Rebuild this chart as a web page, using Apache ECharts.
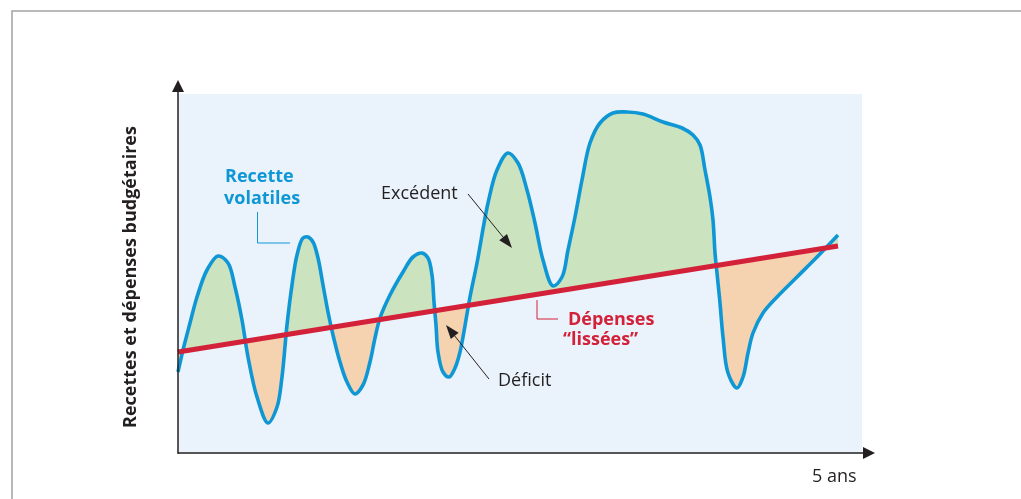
<!DOCTYPE html>
<html><head><meta charset="utf-8">
<script src="https://cdn.jsdelivr.net/npm/echarts@6/dist/echarts.min.js"></script>
<style>html,body{margin:0;padding:0;background:#fff}#c{width:1021px;height:499px}</style>
</head><body><div id="c"></div>
<script>
// ---- data (arbitrary units: time along x, amount along y) ----
const recetteX = [0,5,12,19,29,40,50,57,64,70,79,90,99,104,109,114,119,125,130,135,140,145,150,155,162,169,177,185,192,197,202,212,225,235,244,250,254,256,258,260,265,271,277,282,292,299,310,319,330,340,349,357,365,375,384,390,397,404,412,422,435,449,465,485,504,515,522,527,532,535,537,539,542,545,550,559,565,570,575,585,599,619,639,660];
const recetteY = [81,103,130,156,183,197,190,166,133,96,56,30,46,76,128,168,198,215,216,211,195,168,141,118,91,71,59,68,91,115,135,158,181,196,200,195,178,151,128,101,81,76,85,101,156,190,250,283,300,290,263,230,193,167,176,203,236,273,310,330,340,341,339,331,325,318,308,283,256,233,200,180,150,116,80,65,76,100,120,140,156,176,196,218];
const depensesX = [0, 660];
const depensesY = [101, 207];
const axisMax = {x: 691, y: 367};
const plotArea = {x: 684, y: 359};

// ---- styles ----
const BLUE = '#0f97d5', RED = '#d3213a', GREEN = '#cbe3bf', ORANGE = '#f5d3b1', BG = '#eaf3fb', INK = '#231f20';
const FONT = '"Open Sans", "Noto Sans", sans-serif';

// centripetal Catmull-Rom -> cubic Bezier path
function smoothPath(p){
  const n = p.length, f = v => v.toFixed(2), eps = 1e-6;
  const dist = (a, b) => Math.hypot(a[0] - b[0], a[1] - b[1]);
  let d = 'M' + f(p[0][0]) + ' ' + f(p[0][1]);
  for (let i = 0; i < n - 1; i++) {
    const P0 = p[Math.max(i - 1, 0)], P1 = p[i], P2 = p[i + 1], P3 = p[Math.min(i + 2, n - 1)];
    const d01 = dist(P0, P1), d12 = dist(P1, P2), d23 = dist(P2, P3);
    const a01 = Math.sqrt(d01), a12 = Math.sqrt(d12), a23 = Math.sqrt(d23);
    let c1 = [P1[0], P1[1]], c2 = [P2[0], P2[1]];
    if (a01 > eps) {
      const A = 2 * d01 + 3 * a01 * a12 + d12, N = 3 * a01 * (a01 + a12);
      c1 = [(P1[0] * A - P0[0] * d12 + P2[0] * d01) / N, (P1[1] * A - P0[1] * d12 + P2[1] * d01) / N];
    }
    if (a23 > eps) {
      const B = 2 * d23 + 3 * a23 * a12 + d12, M = 3 * a23 * (a23 + a12);
      c2 = [(P2[0] * B + P1[0] * d23 - P3[0] * d12) / M, (P2[1] * B + P1[1] * d23 - P3[1] * d12) / M];
    }
    d += ' C' + f(c1[0]) + ' ' + f(c1[1]) + ' ' + f(c2[0]) + ' ' + f(c2[1]) + ' ' + f(P2[0]) + ' ' + f(P2[1]);
  }
  return d;
}

const chart = echarts.init(document.getElementById('c'), null, {renderer: 'canvas'});

function renderBg(params, api){
  const a = api.coord([0, plotArea.y]), b = api.coord([plotArea.x, 0]);
  return {type: 'rect', shape: {x: a[0], y: a[1], width: b[0] - a[0], height: b[1] - a[1]}, style: {fill: BG}};
}

function renderRecettes(params, api){
  const pts = recetteX.map((x, i) => api.coord([x, recetteY[i]]));
  const curve = smoothPath(pts);
  const r0 = api.coord([depensesX[0], depensesY[0]]);
  const r1 = api.coord([depensesX[1], depensesY[1]]);
  const fillPath = curve + ' L' + r1[0] + ' ' + r1[1] + ' L' + r0[0] + ' ' + r0[1] + ' Z';
  const ex = (r1[0] - r0[0]) * 0.2, ey = (r1[1] - r0[1]) * 0.2;
  const p0 = [r0[0] - ex, r0[1] - ey], p1 = [r1[0] + ex, r1[1] + ey];
  const above = [p0, p1, [p1[0], -2000], [p0[0], -2000]];
  const below = [p0, p1, [p1[0], 3000], [p0[0], 3000]];
  return {
    type: 'group',
    children: [
      {type: 'path', shape: {pathData: fillPath}, style: {fill: GREEN, stroke: null}, clipPath: {type: 'polygon', shape: {points: above}}},
      {type: 'path', shape: {pathData: fillPath}, style: {fill: ORANGE, stroke: null}, clipPath: {type: 'polygon', shape: {points: below}}},
      {type: 'path', shape: {pathData: curve}, style: {fill: null, stroke: BLUE, lineWidth: 3.6, lineJoin: 'round', lineCap: 'butt'}}
    ]
  };
}

function arrowHead(tip, from, len, half){
  const dx = tip[0] - from[0], dy = tip[1] - from[1], L = Math.hypot(dx, dy);
  const ux = dx / L, uy = dy / L, px = -uy, py = ux;
  const b = [tip[0] - ux * len, tip[1] - uy * len];
  return {base: b, pts: [tip, [b[0] + px * half, b[1] + py * half], [b[0] - px * half, b[1] - py * half]]};
}
const exc = arrowHead([512, 248], [468, 194], 14, 5);
const def = arrowHead([446, 325], [489, 379], 14, 5);

const Z = 100;
const option = {
  animation: false,
  grid: {left: 178, top: 86, width: axisMax.x, height: axisMax.y, containLabel: false},
  xAxis: {type: 'value', min: 0, max: axisMax.x, z: 10,
    axisLine: {show: true, lineStyle: {color: INK, width: 1.5}, symbol: ['none', 'triangle'], symbolSize: [12, 12]},
    axisTick: {show: false}, axisLabel: {show: false}, splitLine: {show: false}},
  yAxis: {type: 'value', min: 0, max: axisMax.y, z: 10,
    axisLine: {show: true, lineStyle: {color: INK, width: 1.5}, symbol: ['none', 'triangle'], symbolSize: [12, 12]},
    axisTick: {show: false}, axisLabel: {show: false}, splitLine: {show: false}},
  series: [
    {type: 'custom', name: 'fond', coordinateSystem: 'cartesian2d', data: [[0, 0]], z: 1, silent: true, renderItem: renderBg},
    {type: 'custom', name: 'Recettes volatiles', coordinateSystem: 'cartesian2d', data: [[0, 0]], z: 3, silent: true, renderItem: renderRecettes},
    {type: 'line', name: 'Dépenses lissées', data: depensesX.map((x, i) => [x, depensesY[i]]), showSymbol: false, silent: true, z: 5,
      lineStyle: {color: RED, width: 5, cap: 'butt'}}
  ],
  graphic: [
    {type: 'polyline', z: Z, shape: {points: [[12, 499], [12, 11], [1021, 11]]}, style: {stroke: '#a3a3a3', lineWidth: 1.5, fill: null}},
    {type: 'text', z: Z, x: 131, y: 277, rotation: Math.PI / 2, style: {text: 'Recettes et dépenses budgétaires', font: 'bold 18px ' + FONT, fill: INK, textAlign: 'center', textVerticalAlign: 'middle'}},
    {type: 'text', z: Z, x: 812, y: 477, style: {text: '5 ans', font: '18px ' + FONT, fill: INK, textAlign: 'left', textVerticalAlign: 'middle'}},
    {type: 'text', z: Z, x: 225, y: 177, style: {text: 'Recette', font: 'bold 18px ' + FONT, fill: BLUE, textAlign: 'left', textVerticalAlign: 'middle'}},
    {type: 'text', z: Z, x: 224, y: 199, style: {text: 'volatiles', font: 'bold 18px ' + FONT, fill: BLUE, textAlign: 'left', textVerticalAlign: 'middle'}},
    {type: 'polyline', z: Z, shape: {points: [[257.5, 212], [257.5, 243], [290, 243]]}, style: {stroke: BLUE, lineWidth: 1, fill: null}},
    {type: 'text', z: Z, x: 381, y: 194, style: {text: 'Excédent', font: '18px ' + FONT, fill: INK, textAlign: 'left', textVerticalAlign: 'middle'}},
    {type: 'line', z: Z, shape: {x1: 468, y1: 194, x2: exc.base[0], y2: exc.base[1]}, style: {stroke: INK, lineWidth: 1}},
    {type: 'polygon', z: Z, shape: {points: exc.pts}, style: {fill: INK}},
    {type: 'text', z: Z, x: 498, y: 381, style: {text: 'Déficit', font: '18px ' + FONT, fill: INK, textAlign: 'left', textVerticalAlign: 'middle'}},
    {type: 'line', z: Z, shape: {x1: 489, y1: 379, x2: def.base[0], y2: def.base[1]}, style: {stroke: INK, lineWidth: 1}},
    {type: 'polygon', z: Z, shape: {points: def.pts}, style: {fill: INK}},
    {type: 'polyline', z: Z, shape: {points: [[537, 300], [537, 319], [558, 319]]}, style: {stroke: RED, lineWidth: 1, fill: null}},
    {type: 'text', z: Z, x: 568, y: 320, style: {text: 'Dépenses', font: 'bold 18px ' + FONT, fill: RED, textAlign: 'left', textVerticalAlign: 'middle'}},
    {type: 'text', z: Z, x: 563, y: 340, style: {text: '\u201Clissées\u201D', font: 'bold 18px ' + FONT, fill: RED, textAlign: 'left', textVerticalAlign: 'middle'}}
  ]
};
chart.setOption(option);
</script>
</body></html>
